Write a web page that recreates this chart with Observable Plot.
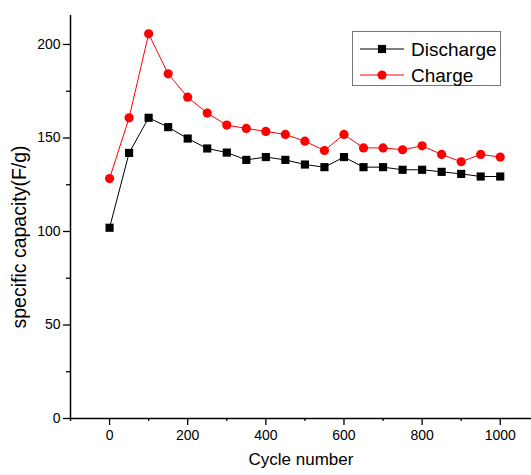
<!DOCTYPE html>
<html>
<head>
<meta charset="utf-8">
<script src="https://cdn.jsdelivr.net/npm/d3@7"></script>
<script src="https://cdn.jsdelivr.net/npm/@observablehq/plot@0.6"></script>
<style>
  html, body { margin: 0; padding: 0; background: #fff; }
  #wrap { position: relative; width: 531px; height: 475px; font-family: "Liberation Sans", Arial, sans-serif; }
  #legend { position: absolute; left: 352px; top: 31px; width: 149px; height: 55px; border: 1px solid #777; background: #fff; box-sizing: border-box; }
  #legend svg { overflow: visible; display: block; }
</style>
</head>
<body>
<div id="wrap"></div>
<script>
const cycles = [0, 50, 100, 150, 200, 250, 300, 350, 400, 450, 500, 550, 600, 650, 700, 750, 800, 850, 900, 950, 1000];
const discharge = [102, 142, 160.8, 155.8, 149.7, 144.4, 142.2, 138.3, 139.8, 138.3, 135.8, 134.4, 139.8, 134.4, 134.4, 133, 133, 131.9, 130.8, 129.4, 129.4];
const charge = [128.3, 160.8, 205.7, 184.3, 171.8, 163.3, 156.9, 155.1, 153.5, 151.9, 148.3, 143.3, 151.9, 144.7, 144.7, 143.7, 145.8, 141.2, 137.3, 141.2, 139.8];
const seriesNames = ["Discharge", "Charge"];
const seriesColors = ["#000000", "#ff0000"];
const seriesSymbols = ["square", "circle"];
const xMajorTicks = [0, 200, 400, 600, 800, 1000];
const xMinorTicks = [-100, 100, 300, 500, 700, 900];
const yMajorTicks = [0, 50, 100, 150, 200];
const yMinorTicks = [25, 75, 125, 175];
const xTitle = "Cycle number";
const yTitle = "specific capacity(F/g)";

const rows = [];
cycles.forEach((c, i) => {
  rows.push({cycle: c, value: discharge[i], series: seriesNames[0]});
  rows.push({cycle: c, value: charge[i], series: seriesNames[1]});
});
const dRows = rows.filter(d => d.series === seriesNames[0]);
const cRows = rows.filter(d => d.series === seriesNames[1]);

const font = "'Liberation Sans', Arial, sans-serif";

const chart = Plot.plot({
  width: 531,
  height: 475,
  marginLeft: 70,
  marginRight: 0,
  marginTop: 15,
  marginBottom: 57,
  style: {fontFamily: font, color: "#000", background: "#fff"},
  x: {domain: [-100, 1080]},
  y: {domain: [0, 215.5]},
  marks: [
    Plot.axisX({ticks: xMinorTicks, tickSize: 3, tickFormat: () => "", label: null, strokeWidth: 1.3}),
    Plot.axisX({ticks: xMajorTicks, tickSize: 7, tickPadding: 5, fontSize: 14, tickFormat: d => String(d), strokeWidth: 1.3, label: null}),
    Plot.axisY({ticks: yMinorTicks, tickSize: 4, tickFormat: () => "", label: null, strokeWidth: 1.3}),
    Plot.axisY({ticks: yMajorTicks, tickSize: 7, tickPadding: 3, fontSize: 14, tickFormat: d => String(d), strokeWidth: 1.3, label: null}),
    Plot.text([xTitle], {frameAnchor: "bottom", dy: 46, fontSize: 17, fill: "#000", text: d => d}),
    Plot.text([yTitle], {frameAnchor: "left", textAnchor: "middle", dx: -51, dy: 20, rotate: -90, fontSize: 19.5, fill: "#000", text: d => d}),
    Plot.ruleY([0], {stroke: "#000", strokeWidth: 1.5}),
    Plot.ruleX([-100], {stroke: "#000", strokeWidth: 1.5}),
    Plot.line(dRows, {x: "cycle", y: "value", stroke: seriesColors[0], strokeWidth: 1}),
    Plot.line(cRows, {x: "cycle", y: "value", stroke: seriesColors[1], strokeWidth: 1}),
    Plot.dot(dRows, {x: "cycle", y: "value", symbol: seriesSymbols[0], r: 4.6, fill: seriesColors[0], stroke: "none"}),
    Plot.dot(cRows, {x: "cycle", y: "value", symbol: seriesSymbols[1], r: 4.6, fill: seriesColors[1], stroke: "none"})
  ]
});

const wrap = document.getElementById("wrap");
wrap.appendChild(chart);

// Legend
const legend = document.createElement("div");
legend.id = "legend";
wrap.appendChild(legend);
const lsvg = d3.select(legend).append("svg").attr("width", 147).attr("height", 53);
seriesNames.forEach((name, i) => {
  const cy = 17 + i * 26;
  const g = lsvg.append("g");
  g.append("line").attr("x1", 7).attr("x2", 51).attr("y1", cy).attr("y2", cy)
    .attr("stroke", seriesColors[i]).attr("stroke-width", 1);
  const sym = seriesSymbols[i] === "square" ? d3.symbolSquare : d3.symbolCircle;
  g.append("path").attr("d", d3.symbol(sym, 4.6 * 4.6 * Math.PI)())
    .attr("transform", `translate(29,${cy})`).attr("fill", seriesColors[i]);
  g.append("text").attr("x", 58).attr("y", cy).attr("dy", "0.36em")
    .attr("font-family", font).attr("font-size", 19).attr("fill", "#000").text(name);
});
</script>
</body>
</html>
